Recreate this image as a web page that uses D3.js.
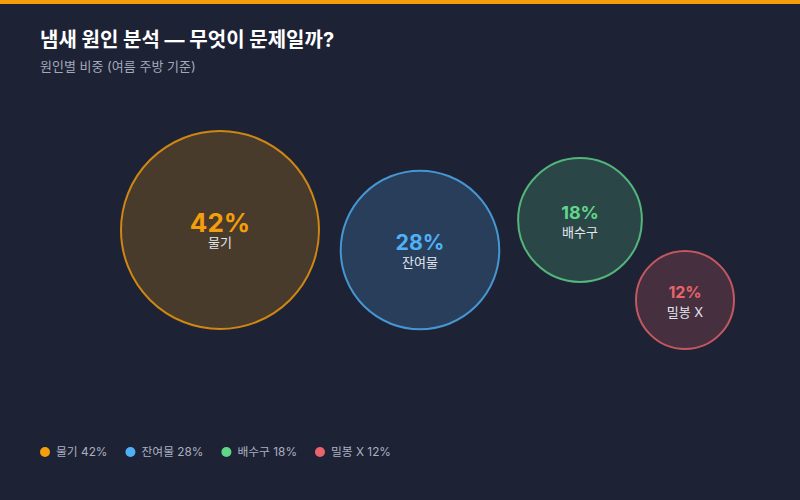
<!DOCTYPE html>
<html>
<head>
<meta charset="utf-8">
<script src="https://cdn.jsdelivr.net/npm/d3@7"></script>
<style>
  body { margin: 0; background: #1e2235; }
  svg text { font-family: Inter, "Noto Sans CJK KR", sans-serif; }
</style>
</head>
<body>
<div id="chart"></div>
<script>
// data
var causes = ["물기", "잔여물", "배수구", "밀봉 X"];
var shares = [42, 28, 18, 12];
var colors = ["#f59e0b", "#4fb0f5", "#5fd68a", "#e8646a"];

var width = 800, height = 500;

// bubble centres (layout only)
var centers = [[220, 230], [420, 250], [580, 220], [685, 300]];

var svg = d3.select("#chart").append("svg")
    .attr("width", width)
    .attr("height", height);

svg.append("rect").attr("width", width).attr("height", height).attr("fill", "#1e2235");
svg.append("rect").attr("width", width).attr("height", 4).attr("fill", "#f59e0b");

svg.append("text")
    .attr("x", 40).attr("y", 47)
    .attr("fill", "#ffffff")
    .attr("font-size", 20).attr("font-weight", 700)
    .text("냄새 원인 분석 — 무엇이 문제일까?");

svg.append("text")
    .attr("x", 40).attr("y", 71)
    .attr("fill", "#a3a9bb")
    .attr("font-size", 13)
    .text("원인별 비중 (여름 주방 기준)");

var ext = d3.extent(shares);
var r = d3.scaleSqrt().domain(ext).range([50, 100]);
var fs = d3.scaleLinear().domain(ext).range([16, 26]);

var data = causes.map(function(c, i) {
    return {name: c, value: shares[i], color: colors[i], cx: centers[i][0], cy: centers[i][1]};
});

var bubble = svg.selectAll("g.bubble")
    .data(data)
  .enter().append("g")
    .attr("class", "bubble")
    .attr("transform", function(d) { return "translate(" + d.cx + "," + d.cy + ")"; });

bubble.append("circle")
    .attr("r", function(d) { return r(d.value) - 1; })
    .attr("fill", function(d) { return d.color; })
    .attr("fill-opacity", 0.2)
    .attr("stroke", function(d) { return d.color; })
    .attr("stroke-opacity", 0.8)
    .attr("stroke-width", 2);

bubble.append("text")
    .attr("y", -8)
    .attr("text-anchor", "middle")
    .attr("dominant-baseline", "central")
    .attr("fill", function(d) { return d.color; })
    .attr("font-weight", 700)
    .attr("font-size", function(d) { return fs(d.value); })
    .text(function(d) { return d.value + "%"; });

bubble.append("text")
    .attr("y", 12)
    .attr("text-anchor", "middle")
    .attr("dominant-baseline", "central")
    .attr("fill", "#e4e6ee")
    .attr("font-size", 13)
    .text(function(d) { return d.name; });

// legend
var legend = svg.append("g").attr("transform", "translate(40,452)");
var lx = 0;
data.forEach(function(d) {
    var item = legend.append("g").attr("transform", "translate(" + lx + ",0)");
    item.append("circle").attr("cx", 5).attr("cy", 0).attr("r", 5).attr("fill", d.color);
    var t = item.append("text")
        .attr("x", 16).attr("y", 0)
        .attr("dominant-baseline", "central")
        .attr("fill", "#aab0c0")
        .attr("font-size", 11.8)
        .text(d.name + " " + d.value + "%");
    lx += 16 + t.node().getComputedTextLength() + 18;
});
</script>
</body>
</html>
